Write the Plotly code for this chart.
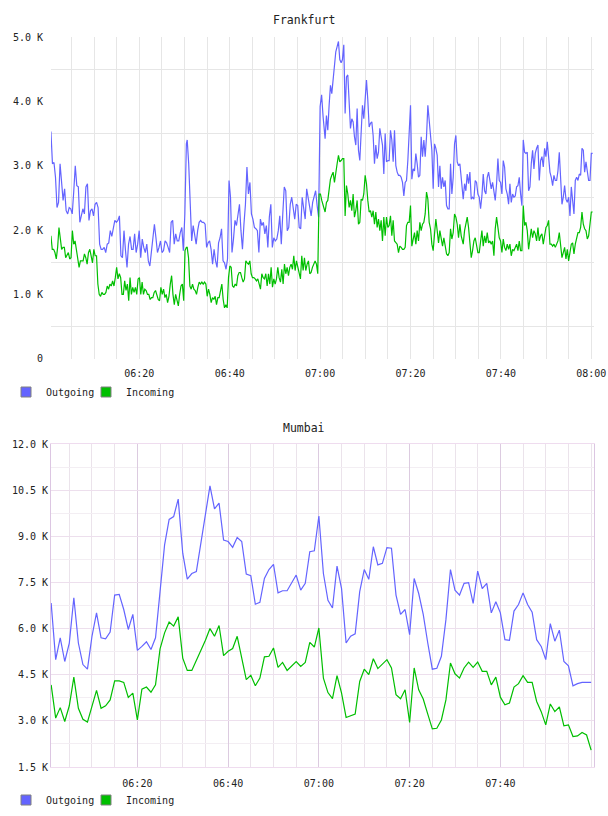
import pandas as pd
import plotly.graph_objects as go

DAY = "2024-01-01 "

# ---------------- Frankfurt (values in K) ----------------
# the series is recorded in four consecutive time blocks
FRA_BLOCKS = [("06:00:27", "06:30:25"), ("06:30:36", "07:00:40"),
              ("07:00:49", "07:31:31"), ("07:31:40", "08:00:18")]

FRA_OUT_1 = [3.53, 3.03, 3.05, 2.82, 2.35, 2.43, 3.03, 2.77, 2.46, 2.64, 2.3, 2.25, 2.35, 2.33, 2.25, 2.6,
             3.0, 2.69, 2.67, 2.12, 2.22, 2.33, 2.25, 2.67, 2.72, 2.15, 2.3, 2.33, 2.22, 2.4, 2.43, 2.35,
             1.78, 1.7, 1.7, 1.73, 1.65, 1.78, 1.8, 1.99, 1.9, 2.04, 2.15, 2.12, 2.15, 2.22, 1.6, 1.57,
             1.99, 1.68, 1.42, 1.78, 1.9, 1.7, 1.7, 1.94, 1.65, 1.78, 1.99, 1.57, 1.86, 1.73, 1.65, 1.78,
             1.52, 1.44, 1.65, 1.88, 2.09, 1.88, 1.65, 1.73, 1.83, 1.65, 1.68, 1.83, 1.8, 1.73, 1.65, 2.12,
             2.15, 1.78, 1.94, 1.83, 1.83, 1.96, 2.04, 1.68, 2.25, 3.34]
FRA_OUT_2 = [3.4, 3.03, 2.4, 1.83, 2.07, 1.88, 1.78, 1.99, 2.12, 2.15, 2.12, 2.12, 2.09, 1.73, 1.8, 1.83,
             1.7, 1.47, 1.7, 1.52, 1.42, 1.8, 1.88, 2.02, 1.52, 1.49, 1.39, 1.55, 2.77, 2.51, 1.65, 1.86,
             2.15, 2.07, 2.22, 2.4, 1.99, 1.7, 2.09, 2.4, 2.98, 2.56, 2.74, 2.25, 2.17, 2.04, 2.02, 1.99,
             1.65, 2.17, 2.07, 2.12, 1.94, 2.07, 1.73, 2.2, 2.4, 1.73, 1.88, 1.83, 1.86, 1.99, 2.22, 1.78,
             2.25, 2.67, 2.61, 1.99, 2.04, 2.4, 2.51, 2.35, 2.17, 2.4, 2.38, 2.04, 2.02, 2.51, 2.33, 2.17,
             2.64, 2.51, 2.35, 2.22, 2.43, 2.53, 2.61, 2.38, 2.2, 3.92, 4.1, 3.76]
FRA_OUT_3 = [3.6, 3.42, 3.78, 3.55, 3.94, 4.25, 4.12, 4.33, 4.54, 4.77, 4.85, 4.93, 4.65, 4.6, 4.65, 4.88,
             3.81, 4.38, 4.41, 4.07, 3.58, 3.73, 3.68, 3.45, 3.32, 3.89, 3.24, 3.08, 3.53, 3.94, 3.73, 4.12,
             4.33, 4.02, 3.6, 3.66, 3.68, 3.47, 3.03, 3.32, 3.11, 3.21, 3.58, 3.45, 3.32, 2.87, 3.5, 3.06,
             3.08, 3.08, 3.55, 3.4, 3.06, 3.55, 3.0, 2.9, 2.85, 2.85, 2.82, 2.74, 2.53, 2.74, 2.77, 3.08,
             3.45, 3.94, 2.79, 2.95, 2.92, 3.19, 3.03, 2.82, 2.85, 3.45, 3.14, 3.4, 3.14, 3.45, 3.94, 3.73,
             3.5, 3.24, 2.64, 3.34, 3.27, 3.16, 2.67, 3.0, 2.64, 2.82, 2.67, 2.77, 2.38, 2.33, 2.33, 3.03,
             2.56, 2.82, 3.34, 3.47, 3.06, 3.0, 3.03, 2.77, 2.51]
FRA_OUT_4 = [2.48, 2.72, 2.61, 2.87, 2.72, 2.9, 2.48, 2.51, 2.48, 2.77, 2.74, 2.56, 2.51, 2.33, 2.53, 2.87,
             2.61, 2.56, 2.82, 2.9, 2.74, 2.64, 2.74, 2.58, 2.46, 2.72, 3.11, 2.77, 2.74, 2.56, 3.08, 2.98,
             2.64, 2.56, 2.4, 2.72, 2.43, 2.56, 2.51, 2.53, 2.67, 2.69, 2.82, 2.56, 2.38, 3.4, 3.21, 3.19,
             3.21, 2.61, 2.67, 3.03, 3.24, 2.95, 3.19, 3.27, 3.32, 2.77, 3.08, 3.14, 2.98, 3.27, 3.14, 3.37,
             3.11, 2.9, 2.82, 2.69, 2.85, 2.77, 2.77, 2.92, 3.21, 2.82, 2.4, 2.51, 2.69, 2.48, 2.43, 2.51,
             2.22, 2.67, 2.48, 2.25, 2.77, 2.82, 2.77, 2.87, 2.85, 3.27, 3.24, 2.9, 3.06, 2.92, 2.77, 2.77,
             3.19, 3.19]

FRA_IN_1 = [1.91, 1.7, 1.7, 1.65, 1.55, 1.73, 2.04, 1.86, 1.7, 1.73, 1.73, 1.57, 1.6, 1.65, 1.55, 1.57,
            1.99, 1.78, 1.83, 1.68, 1.6, 1.42, 1.52, 1.52, 1.52, 1.63, 1.57, 1.47, 1.65, 1.7, 1.6, 1.49,
            1.7, 1.6, 1.6, 1.16, 1.0, 0.97, 1.03, 1.0, 1.0, 1.03, 1.13, 1.08, 1.16, 1.13, 1.21, 1.13,
            1.26, 1.42, 1.24, 1.32, 1.26, 1.0, 1.0, 1.21, 1.06, 1.16, 0.9, 1.26, 1.0, 1.11, 1.03, 1.11,
            1.0, 1.24, 1.26, 1.0, 1.19, 1.0, 1.08, 1.06, 1.0, 1.0, 0.92, 0.95, 0.95, 1.03, 1.06, 1.0,
            0.92, 0.9, 1.11, 1.0, 1.08, 0.95, 1.0, 0.87, 0.97, 1.16, 1.29, 1.0, 0.84, 1.0, 0.9, 0.82,
            1.0, 1.13, 1.16, 0.9, 1.68, 1.73]
FRA_IN_2 = [1.73, 1.57, 1.13, 1.08, 1.16, 1.08, 1.06, 1.0, 1.11, 1.19, 1.16, 1.19, 1.16, 1.19, 1.16, 0.97,
            1.08, 1.0, 0.87, 0.95, 0.92, 0.97, 0.84, 0.95, 0.95, 1.06, 1.16, 0.92, 0.79, 0.84, 0.79, 1.26,
            1.44, 1.42, 1.13, 1.11, 1.16, 1.13, 1.29, 1.34, 1.34, 1.26, 1.19, 1.24, 1.52, 1.49, 1.47, 1.52,
            1.32, 1.26, 1.26, 1.24, 1.21, 1.24, 1.16, 1.08, 1.32, 1.26, 1.24, 1.32, 1.13, 1.32, 1.16, 1.42,
            1.11, 1.24, 1.16, 1.24, 1.42, 1.26, 1.19, 1.39, 1.16, 1.47, 1.32, 1.42, 1.29, 1.42, 1.47, 1.39,
            1.6, 1.37, 1.52, 1.42, 1.37, 1.24, 1.6, 1.37, 1.57, 1.37, 1.47, 1.52, 1.32, 1.34, 1.42, 1.49,
            1.52, 1.47, 1.32, 2.56, 2.56, 2.46, 2.35]
FRA_IN_3 = [2.35, 2.28, 2.43, 2.46, 2.69, 2.79, 2.85, 2.9, 2.74, 2.92, 3.03, 3.16, 3.06, 3.08, 3.11, 3.11,
            2.22, 2.69, 2.56, 2.35, 2.46, 2.3, 2.56, 2.2, 2.3, 2.46, 2.09, 2.12, 2.48, 2.46, 2.56, 2.85,
            2.72, 2.46, 2.28, 2.3, 2.2, 2.3, 2.09, 2.28, 2.04, 2.17, 1.99, 2.15, 1.83, 2.2, 1.91, 2.2,
            2.04, 2.07, 2.22, 1.91, 2.15, 1.83, 1.8, 1.78, 1.65, 1.75, 1.73, 1.7, 1.7, 1.73, 2.07, 2.12,
            2.12, 2.38, 1.75, 1.86, 1.96, 1.78, 1.99, 1.83, 2.12, 1.99, 2.09, 2.12, 2.25, 2.59, 2.48, 2.12,
            2.02, 1.78, 1.68, 1.94, 2.17, 1.99, 1.8, 1.99, 1.86, 1.75, 1.88, 1.78, 1.63, 1.6, 1.65, 2.02,
            1.86, 1.96, 2.25, 2.2, 2.09, 1.88, 2.09, 1.91, 1.78]
FRA_IN_4 = [1.78, 1.99, 2.09, 2.2, 2.04, 1.78, 1.57, 1.68, 1.83, 1.88, 1.73, 1.65, 1.65, 1.86, 1.99, 1.75,
            1.91, 1.8, 1.96, 1.8, 1.83, 1.78, 1.83, 1.6, 2.02, 2.2, 2.04, 1.88, 1.83, 1.65, 1.86, 1.73,
            1.68, 1.78, 1.7, 1.78, 1.6, 1.7, 1.68, 1.73, 1.78, 1.68, 1.83, 1.68, 1.68, 2.38, 2.07, 2.12,
            1.99, 1.7, 1.88, 2.02, 1.88, 1.99, 1.94, 1.83, 2.04, 1.83, 1.91, 1.94, 1.78, 1.91, 2.04, 2.07,
            2.15, 1.78, 1.78, 1.75, 1.78, 1.73, 1.8, 1.83, 1.96, 1.75, 1.57, 1.65, 1.73, 1.55, 1.7, 1.52,
            1.68, 1.78, 1.8, 1.63, 1.78, 1.88, 1.96, 1.96, 2.04, 2.28, 2.09, 2.02, 1.99, 1.86, 1.91, 2.09,
            2.28, 2.28]

# ---------------- Mumbai (values in K, one per minute from 06:01) ----------------
MUM_START = "06:01:00"
MUM_OUT = [6.83, 4.99, 5.70, 4.93, 5.53, 7.0, 5.53, 4.83, 4.68, 5.75, 6.51, 5.70, 5.67, 5.89, 7.09, 7.11,
           6.62, 5.97, 6.46, 5.29, 5.42, 5.57, 5.32, 5.70, 7.2, 8.72, 9.55, 9.64, 10.21, 8.45, 7.61, 7.79,
           7.85, 8.77, 9.59, 10.64, 9.89, 10.08, 8.88, 8.83, 8.64, 8.96, 8.83, 7.77, 7.72, 6.79, 6.85, 7.63,
           7.92, 8.09, 7.16, 7.23, 7.23, 7.47, 7.74, 7.25, 7.47, 8.5, 8.53, 9.66, 7.79, 6.92, 6.67, 8.03,
           7.3, 5.53, 5.75, 5.83, 7.2, 7.92, 7.6, 8.66, 8.07, 8.12, 8.63, 8.61, 7.09, 6.46, 6.62, 5.8,
           7.63, 7.14, 6.46, 5.53, 4.68, 4.71, 5.1, 6.29, 7.92, 7.25, 7.09, 7.47, 7.49, 6.82, 7.87, 7.3,
           7.47, 6.51, 6.87, 6.51, 5.64, 5.62, 6.57, 6.78, 7.16, 6.78, 6.53, 5.64, 5.42, 4.99, 6.16, 5.59,
           5.95, 4.93, 4.79, 4.14, 4.21, 4.25, 4.25, 4.25]
MUM_IN = [4.17, 3.09, 3.43, 2.98, 3.49, 4.42, 3.41, 3.05, 2.96, 3.52, 3.99, 3.41, 3.49, 3.68, 4.30, 4.30,
          4.25, 3.76, 3.9, 3.03, 4.03, 4.1, 3.93, 4.17, 5.34, 5.86, 6.21, 6.08, 6.38, 5.04, 4.64, 4.64,
          4.96, 5.32, 5.62, 6.0, 5.75, 6.1, 5.12, 5.26, 5.35, 5.75, 5.04, 4.34, 4.48, 4.14, 4.39, 5.08,
          5.1, 5.37, 4.74, 4.9, 4.64, 4.79, 4.93, 4.77, 4.90, 5.55, 5.40, 6.02, 4.39, 3.92, 3.72, 4.47,
          3.9, 3.11, 3.16, 3.22, 4.28, 4.68, 4.5, 5.02, 4.7, 4.85, 4.99, 4.72, 3.85, 3.72, 4.01, 2.95,
          4.72, 4.01, 3.71, 3.22, 2.74, 2.76, 3.03, 3.68, 4.88, 4.53, 4.39, 4.72, 4.91, 4.74, 4.91, 4.61,
          4.61, 4.17, 4.42, 3.77, 3.52, 3.58, 4.1, 4.21, 4.47, 4.25, 4.25, 3.63, 3.3, 2.87, 3.55, 3.3,
          3.45, 2.84, 2.87, 2.49, 2.51, 2.62, 2.54, 2.05]

FRA_YTICKS = [0, 1, 2, 3, 4, 5]
FRA_YLABELS = ["0", "1.0 K", "2.0 K", "3.0 K", "4.0 K", "5.0 K"]
MUM_YTICKS = [1.5, 3.0, 4.5, 6.0, 7.5, 9.0, 10.5, 12.0]
MUM_YLABELS = ["1.5 K", "3.0 K", "4.5 K", "6.0 K", "7.5 K", "9.0 K", "10.5 K", "12.0 K"]
FRA_XTICKS = ["06:20", "06:40", "07:00", "07:20", "07:40", "08:00"]
MUM_XTICKS = ["06:20", "06:40", "07:00", "07:20", "07:40"]
SERIES = ["Outgoing", "Incoming"]

BLUE = "#6464ff"
GREEN = "#00bf00"
FONT = "DejaVu Sans Mono"
TXT = "#222222"


def block_series(blocks):
    xs, ys = [], []
    for (t0, t1), vals in blocks:
        xs.extend(pd.date_range(DAY + t0, DAY + t1, periods=len(vals)))
        ys.extend(vals)
    return xs, ys


fra_out_x, fra_out_y = block_series(zip(FRA_BLOCKS, [FRA_OUT_1, FRA_OUT_2, FRA_OUT_3, FRA_OUT_4]))
fra_in_x, fra_in_y = block_series(zip(FRA_BLOCKS, [FRA_IN_1, FRA_IN_2, FRA_IN_3, FRA_IN_4]))
mum_x = pd.date_range(DAY + MUM_START, periods=len(MUM_OUT), freq="1min")

fig = go.Figure()
fig.add_trace(go.Scatter(x=fra_out_x, y=fra_out_y, mode="lines", line=dict(color=BLUE, width=1.2),
                         showlegend=False, xaxis="x", yaxis="y"))
fig.add_trace(go.Scatter(x=fra_in_x, y=fra_in_y, mode="lines", line=dict(color=GREEN, width=1.2),
                         showlegend=False, xaxis="x", yaxis="y"))
fig.add_trace(go.Scatter(x=mum_x, y=MUM_OUT, mode="lines", line=dict(color=BLUE, width=1.2),
                         showlegend=False, xaxis="x2", yaxis="y2"))
fig.add_trace(go.Scatter(x=mum_x, y=MUM_IN, mode="lines", line=dict(color=GREEN, width=1.2),
                         showlegend=False, xaxis="x2", yaxis="y2"))

W, H = 608, 816

# legend entries (square swatches), one small legend per entry so spacing matches
LEGENDS = {}
for li, (xa, ya, ypix) in enumerate([("x", "y", 392), ("x2", "y2", 800)]):
    for si, (name, col) in enumerate(zip(SERIES, [BLUE, GREEN])):
        key = "legend" if (li == 0 and si == 0) else "legend%d" % (li * 2 + si + 1)
        fig.add_trace(go.Scatter(x=[None], y=[None], mode="markers", name=name, legend=key,
                                 marker=dict(symbol="square", size=10, color=col,
                                             line=dict(color="#808080", width=1)),
                                 xaxis=xa, yaxis=ya))
        LEGENDS[key] = dict(orientation="h", x=(6 + 80 * si) / W, y=1 - ypix / H,
                            xanchor="left", yanchor="middle",
                            font=dict(family=FONT, size=10, color=TXT), bgcolor="rgba(0,0,0,0)",
                            itemclick=False, itemdoubleclick=False)

XD = [51 / W, 594 / W]
tickfont = dict(family=FONT, size=10, color=TXT)

fig.update_layout(
    width=W, height=H, margin=dict(l=0, r=0, t=0, b=0, autoexpand=False),
    paper_bgcolor="white", plot_bgcolor="white",
    font=dict(family=FONT, size=10, color=TXT),
    xaxis=dict(domain=XD, anchor="y", type="date", automargin=False,
               range=[DAY + "06:00:28", DAY + "08:00:36"],
               tickmode="array", tickvals=[DAY + t for t in FRA_XTICKS], ticktext=FRA_XTICKS,
               showgrid=True, gridcolor="#e6e6e6", gridwidth=1, zeroline=False, showline=False,
               ticks="", ticklabelstandoff=7, tickfont=tickfont,
               minor=dict(dtick=300000, tick0=DAY + "06:00", showgrid=True, gridcolor="#e6e6e6",
                          gridwidth=1, ticks="")),
    yaxis=dict(domain=[1 - 358.7 / H, 1 - 37 / H], anchor="x", range=[0, 5], automargin=False,
               tickmode="array", tickvals=FRA_YTICKS, ticktext=FRA_YLABELS,
               showgrid=False, zeroline=False, showline=False, ticks="", ticklabelstandoff=7,
               tickfont=tickfont,
               minor=dict(tick0=0.5, dtick=1, showgrid=True, gridcolor="#e6e6e6", gridwidth=1, ticks="")),
    xaxis2=dict(domain=XD, anchor="y2", type="date", automargin=False,
                range=[DAY + "06:00:58", DAY + "08:00:38"],
                tickmode="array", tickvals=[DAY + t for t in MUM_XTICKS], ticktext=MUM_XTICKS,
                showgrid=True, gridcolor="#dccbe0", gridwidth=1, zeroline=False,
                showline=True, mirror=True, linecolor="#efdcef", linewidth=1,
                ticks="", ticklabelstandoff=7, tickfont=tickfont,
                minor=dict(dtick=300000, tick0=DAY + "06:00", showgrid=True, gridcolor="#ebe3eb",
                           gridwidth=1, ticks="")),
    yaxis2=dict(domain=[1 - 767 / H, 1 - 444 / H], anchor="x2", range=[1.5, 12], automargin=False,
                tickmode="array", tickvals=MUM_YTICKS, ticktext=MUM_YLABELS,
                showgrid=True, gridcolor="#eddfed", gridwidth=1, zeroline=False,
                showline=True, mirror=True, linecolor="#dcc6e2", linewidth=1,
                ticks="", ticklabelstandoff=0, tickfont=tickfont,
                minor=dict(tick0=2.25, dtick=1.5, showgrid=True, gridcolor="#f3eef3", gridwidth=1, ticks="")),
    annotations=[
        dict(text="Frankfurt", x=0.5, y=1 - 20 / H, xref="paper", yref="paper", showarrow=False,
             xanchor="center", yanchor="middle", font=dict(family=FONT, size=11.5, color=TXT)),
        dict(text="Mumbai", x=0.5, y=1 - 428 / H, xref="paper", yref="paper", showarrow=False,
             xanchor="center", yanchor="middle", font=dict(family=FONT, size=11.5, color=TXT)),
    ],
    **LEGENDS,
)

fig.write_html("out.html")
